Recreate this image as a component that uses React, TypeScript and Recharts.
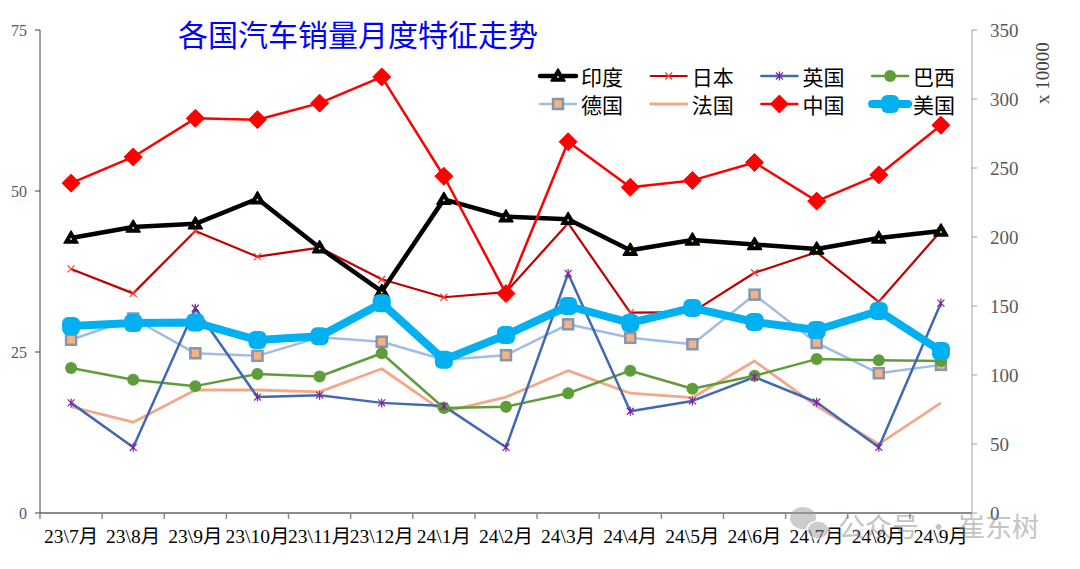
import React from "react";
import { LineChart, Line, XAxis, YAxis } from "recharts";

const categories = [
  "23\\7月", "23\\8月", "23\\9月", "23\\10月", "23\\11月", "23\\12月",
  "24\\1月", "24\\2月", "24\\3月", "24\\4月", "24\\5月", "24\\6月",
  "24\\7月", "24\\8月", "24\\9月",
];

// left axis (x 10000)
const india = [42.7, 44.4, 44.9, 48.8, 41.2, 34.4, 48.7, 46.0, 45.6, 40.8, 42.4, 41.7, 41.0, 42.7, 43.8];
const japan = [37.9, 34.1, 43.8, 39.8, 41.2, 36.3, 33.5, 34.3, 45.0, 31.1, 31.2, 37.3, 40.5, 32.8, 43.8];
const uk = [17.1, 10.2, 31.8, 18.0, 18.3, 17.1, 16.6, 10.2, 37.2, 15.8, 17.4, 21.1, 17.2, 10.2, 32.6];
const brazil = [22.5, 20.7, 19.7, 21.6, 21.2, 24.8, 16.3, 16.5, 18.6, 22.1, 19.3, 21.3, 23.9, 23.7, 23.6];
const germany = [26.9, 30.2, 24.8, 24.4, 27.3, 26.6, 23.8, 24.5, 29.3, 27.2, 26.2, 33.9, 26.4, 21.7, 23.0];
const france = [16.5, 14.1, 19.1, 19.1, 18.8, 22.4, 15.7, 18.0, 22.1, 18.6, 17.9, 23.6, 16.6, 10.7, 17.1];
// right axis (x 10000)
const china = [239, 258, 286, 285, 297, 316, 244, 159, 269, 236, 241, 254, 226, 245, 281];
const usa = [135.5, 137.7, 138, 125.4, 128, 152, 111, 129, 150, 137.7, 148.6, 138.4, 132.6, 146.4, 117.4];

const leftTicks = [0, 25, 50, 75];
const rightTicks = [0, 50, 100, 150, 200, 250, 300, 350];

type Kind = "triangle" | "cross" | "star" | "circle" | "square" | "none" | "diamond" | "blob";

const series: { key: string; name: string; values: number[]; axis: string; color: string; width: number; kind: Kind }[] = [
  { key: "india", name: "印度", values: india, axis: "left", color: "#000000", width: 4.5, kind: "triangle" },
  { key: "japan", name: "日本", values: japan, axis: "left", color: "#c00000", width: 2.2, kind: "cross" },
  { key: "uk", name: "英国", values: uk, axis: "left", color: "#4068b4", width: 2.5, kind: "star" },
  { key: "brazil", name: "巴西", values: brazil, axis: "left", color: "#5f9c3a", width: 2.5, kind: "circle" },
  { key: "germany", name: "德国", values: germany, axis: "left", color: "#9dbde6", width: 2.5, kind: "square" },
  { key: "france", name: "法国", values: france, axis: "left", color: "#f3a889", width: 2.8, kind: "none" },
  { key: "china", name: "中国", values: china, axis: "right", color: "#ff0000", width: 2.5, kind: "diamond" },
  { key: "usa", name: "美国", values: usa, axis: "right", color: "#00b0f0", width: 8, kind: "blob" },
];

const drawOrder = ["germany", "france", "brazil", "uk", "japan", "india", "usa", "china"];

const rows = categories.map((cat, i) => {
  const row: Record<string, any> = { cat };
  series.forEach((s) => (row[s.key] = s.values[i]));
  return row;
});

const serif = "'Liberation Serif', 'Noto Sans CJK SC', serif";
const cjk = "'Noto Sans CJK SC', sans-serif";

function Marker({ kind, cx, cy }: { kind: Kind; cx: number; cy: number }) {
  switch (kind) {
    case "triangle":
      return (
        <g>
          <polygon
            points={`${cx},${cy - 7} ${cx - 7},${cy + 5} ${cx + 7},${cy + 5}`}
            fill="#000" stroke="#000" strokeWidth={1.5} strokeLinejoin="round"
          />
          <circle cx={cx} cy={cy + 1} r={1} fill="#ffff00" />
        </g>
      );
    case "cross":
      return (
        <path
          d={`M${cx - 3.5},${cy - 3.5}L${cx + 3.5},${cy + 3.5}M${cx - 3.5},${cy + 3.5}L${cx + 3.5},${cy - 3.5}`}
          stroke="#ff3a3a" strokeWidth={1.2}
        />
      );
    case "star":
      return (
        <path
          d={`M${cx - 3.5},${cy - 3.5}L${cx + 3.5},${cy + 3.5}M${cx - 3.5},${cy + 3.5}L${cx + 3.5},${cy - 3.5}M${cx},${cy - 4.5}L${cx},${cy + 4.5}`}
          stroke="#8020a0" strokeWidth={1.2}
        />
      );
    case "circle":
      return <circle cx={cx} cy={cy} r={6} fill="#5f9c3a" />;
    case "square":
      return <rect x={cx - 5} y={cy - 5} width={10} height={10} fill="#f4b183" stroke="#8496b0" strokeWidth={2.5} />;
    case "diamond":
      return (
        <polygon
          points={`${cx},${cy - 9} ${cx + 9},${cy} ${cx},${cy + 9} ${cx - 9},${cy}`}
          fill="#ff0000" stroke="#ff0000" strokeWidth={1} strokeLinejoin="round"
        />
      );
    case "blob":
      return <rect x={cx - 9} y={cy - 9} width={18} height={18} rx={6} fill="#00b0f0" />;
    default:
      return null;
  }
}

function XTick(props: any) {
  const { x, y, payload } = props;
  const half = payload?.offset || 31;
  return (
    <g>
      <line x1={x - half} x2={x - half} y1={y - 6} y2={y} stroke="#8c8c8c" strokeWidth={1.5} />
      <text x={x} y={y + 24} textAnchor="middle" fontSize={19.5} fill="#000" fontFamily={serif}>
        {payload.value}
      </text>
    </g>
  );
}

function Overlay() {
  return (
    <svg width={1080} height={569} style={{ position: "absolute", left: 0, top: 0, pointerEvents: "none" }}>
      <text x={178} y={46} fontSize={30} fill="#0000ff" fontFamily={cjk}>
        各国汽车销量月度特征走势
      </text>
      {series.map((s, i) => {
        const col = i % 4;
        const row = Math.floor(i / 4);
        const x1 = 540 + col * 110.7;
        const y = 76 + row * 28;
        return (
          <g key={s.key}>
            <line x1={x1} x2={x1 + 36} y1={y} y2={y} stroke={s.color} strokeWidth={Math.min(s.width, 8)} strokeLinecap="round" />
            <Marker kind={s.kind} cx={x1 + 18} cy={y} />
            <text x={x1 + 41} y={y} dominantBaseline="central" fontSize={21} fill="#000" fontFamily={cjk}>
              {s.name}
            </text>
          </g>
        );
      })}
      <text
        x={1042} y={73} fontSize={19} fill="#404040" fontFamily={serif}
        textAnchor="middle" dominantBaseline="central" transform="rotate(-90, 1042, 73)"
      >
        x 10000
      </text>
      <g opacity={0.5}>
        <ellipse cx={803} cy={518} rx={13} ry={11} fill="#9a9a9a" />
        <ellipse cx={818} cy={530} rx={11} ry={9} fill="#9a9a9a" stroke="#fff" strokeWidth={1.5} />
        <text x={838} y={537} fontSize={27} fill="#8a8a8a" fontFamily={cjk}>
          公众号 · 崔东树
        </text>
      </g>
    </svg>
  );
}

export default function App() {
  return (
    <div style={{ position: "absolute", left: 0, top: 0, width: 1080, height: 569, background: "#fff" }}>
      <LineChart width={1080} height={569} data={rows} margin={{ top: 30, right: 0, bottom: 0, left: 0 }}>
        <XAxis
          dataKey="cat"
          scale="band"
          height={56}
          interval={0}
          tickLine={false}
          tickSize={6}
          tickMargin={0}
          tick={<XTick />}
          axisLine={{ stroke: "#8c8c8c", strokeWidth: 2 }}
        />
        <YAxis
          yAxisId="left"
          width={40}
          domain={[0, 75]}
          ticks={leftTicks}
          tickSize={5}
          tickMargin={8}
          tick={{ fontSize: 16, fill: "#595959", fontFamily: serif }}
          axisLine={{ stroke: "#404040" }}
          tickLine={{ stroke: "#404040" }}
        />
        <YAxis
          yAxisId="right"
          orientation="right"
          width={108}
          domain={[0, 350]}
          ticks={rightTicks}
          tickSize={5}
          tickMargin={13}
          tick={{ fontSize: 19, fill: "#595959", fontFamily: serif, textAnchor: "start" }}
          axisLine={{ stroke: "#a0a0a0" }}
          tickLine={{ stroke: "#a0a0a0" }}
        />
        {drawOrder.map((k) => {
          const s = series.find((d) => d.key === k)!;
          return (
            <Line
              key={s.key}
              yAxisId={s.axis}
              dataKey={s.key}
              name={s.name}
              type="linear"
              stroke={s.color}
              strokeWidth={s.width}
              strokeLinejoin="round"
              isAnimationActive={false}
              activeDot={false}
              dot={(p: any) => <Marker key={`${s.key}-${p.index}`} kind={s.kind} cx={p.cx} cy={p.cy} />}
            />
          );
        })}
      </LineChart>
      <Overlay />
    </div>
  );
}
